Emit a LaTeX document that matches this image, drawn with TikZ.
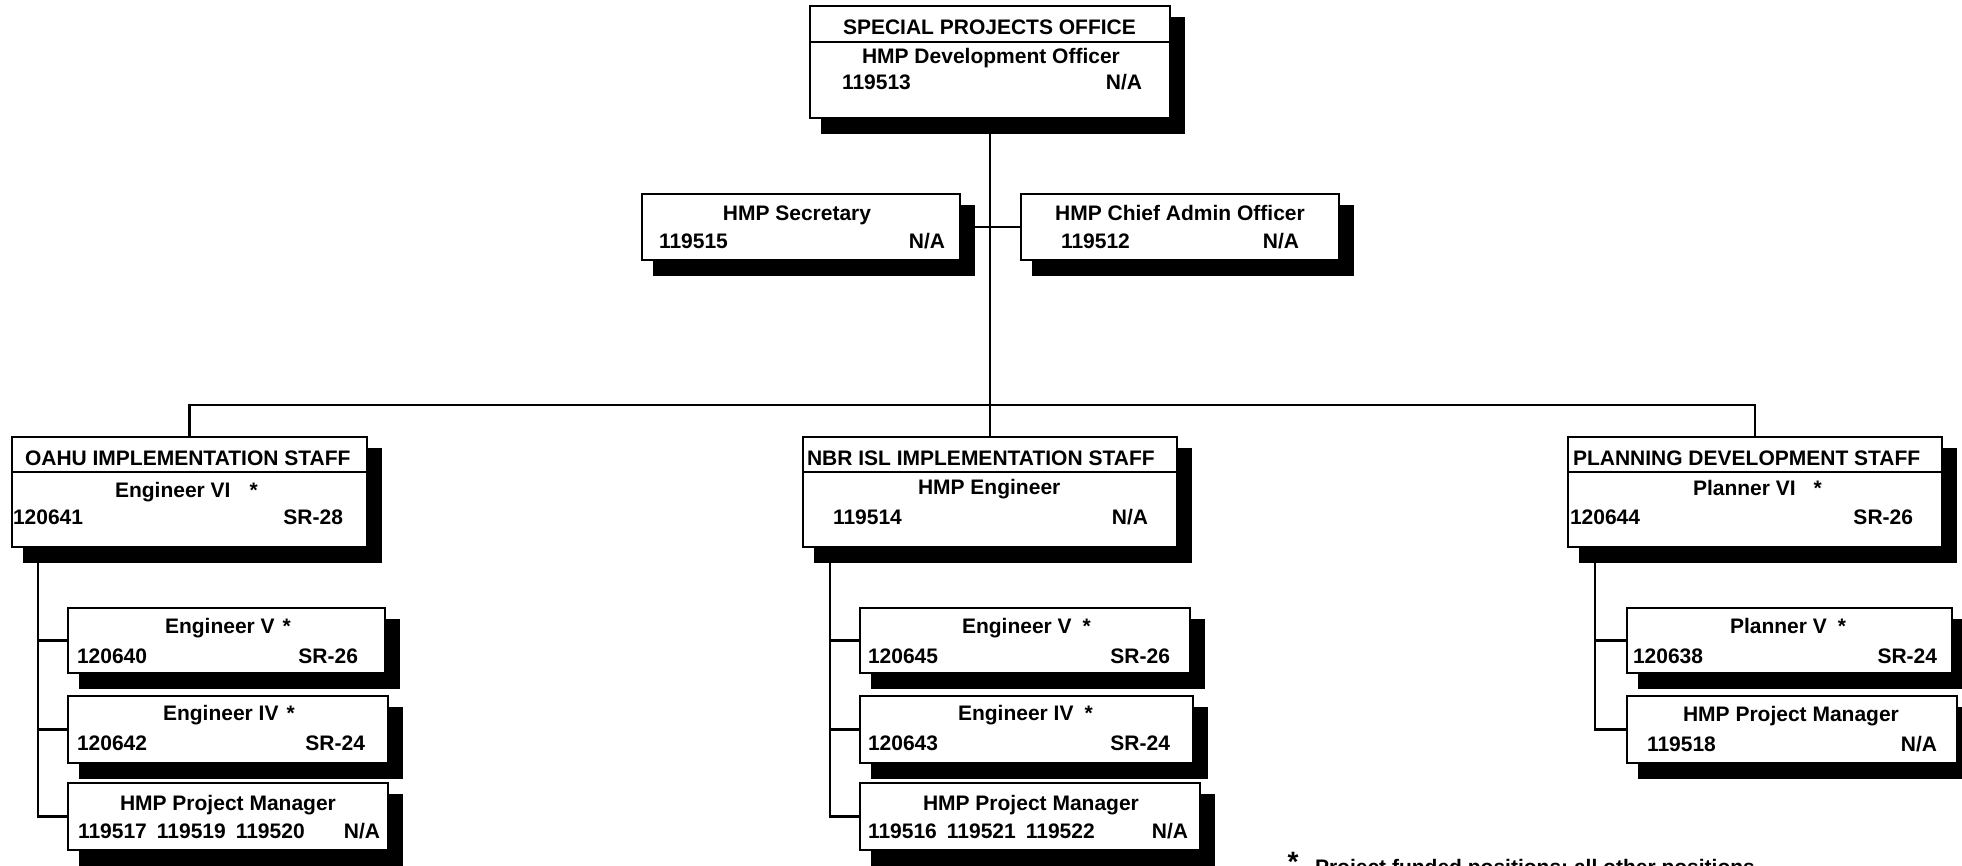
\documentclass[tikz,border=0pt]{standalone}
\usepackage{fontspec}
\setmainfont{Liberation Sans}
\tikzset{
  boxst/.style={draw=black, line width=2.5pt, fill=white, anchor=north west, inner sep=0pt, outer sep=0pt},
  shad/.style={fill=black},
  conn/.style={line width=2.5pt, draw=black},
  lbl/.style={inner sep=0pt, outer sep=0pt, font=\bfseries\fontsize{21}{25}\selectfont},
  lw/.style={lbl, anchor=base west},
  le/.style={lbl, anchor=base east},
  lc/.style={lbl, anchor=base},
}
% name, x1, y1, x2, y2
\newcommand\orgbox[5]{%
  \fill[shad] (#2+11,#3+11) rectangle (#4+15,#5+16);
  \node[boxst, minimum width={#4-#2}, minimum height={#5-#3}] (#1) at (#2,#3) {};
}
\newcommand\titlerule[2]{%
  \draw[conn] ([yshift=-#2pt]#1.north west) -- ([yshift=-#2pt]#1.north east);
}
\begin{document}
\begin{tikzpicture}[x=1pt, y=-1pt]
\fill[white] (0,0) rectangle (1962,866);
\useasboundingbox (0,0) rectangle (1962,866);
\clip (0,0) rectangle (1962,866);

% ---------- boxes ----------
\orgbox{top}{810}{6}{1170}{118}
\titlerule{top}{36}
\orgbox{sec}{642}{194}{960}{260}
\orgbox{chief}{1021}{194}{1339}{260}

\orgbox{oahu}{12}{437}{367}{547}
\titlerule{oahu}{35}
\orgbox{nbr}{803}{437}{1177}{547}
\titlerule{nbr}{35}
\orgbox{plan}{1568}{437}{1942}{547}
\titlerule{plan}{35}

\orgbox{oahuA}{68}{608}{385}{673}
\orgbox{oahuB}{68}{696}{388}{763}
\orgbox{oahuC}{68}{783}{388}{850}

\orgbox{nbrA}{860}{608}{1190}{673}
\orgbox{nbrB}{860}{696}{1193}{763}
\orgbox{nbrC}{860}{783}{1200}{850}

\orgbox{planA}{1627}{608}{1952}{673}
\orgbox{planB}{1627}{696}{1957}{763}

% ---------- connectors ----------
\draw[conn] (top.south) -- (nbr.north);
\draw[conn] (sec.east) -- (chief.west);
\coordinate (bus) at (990,405);
\draw[conn] (oahu.north) |- (bus) -| (plan.north);

\coordinate (oahuv) at ([xshift=26pt]oahu.south west);
\draw[conn] (oahuv) |- (oahuA.west);
\draw[conn] (oahuv) |- (oahuB.west);
\draw[conn] (oahuv) |- (oahuC.west);

\coordinate (nbrv) at ([xshift=27pt]nbr.south west);
\draw[conn] (nbrv) |- (nbrA.west);
\draw[conn] (nbrv) |- (nbrB.west);
\draw[conn] (nbrv) |- (nbrC.west);

\coordinate (planv) at ([xshift=27pt]plan.south west);
\draw[conn] (planv) |- (planA.west);
\draw[conn] (planv) |- (planB.west);

% ---------- texts ----------
\node[lw] (t1) at (843,35) {SPECIAL PROJECTS OFFICE};
\node[lw] (t2) at (862,64) {HMP Development Officer};
\node[lw] (t3) at (842,90) {119513};
\node[le] (t4) at (1142,90) {N/A};

\node[lc] (t5) at (797,221) {HMP Secretary};
\node[lw] (t6) at (659,249) {119515};
\node[le] (t7) at (945,249) {N/A};

\node[lc] (t8) at (1180,221) {HMP Chief Admin Officer};
\node[lw] (t9) at (1061,249) {119512};
\node[le] (t10) at (1299,249) {N/A};

\node[lw] (t11) at (25,465) {OAHU IMPLEMENTATION STAFF};
\node[lw] (t12) at (115,497) {Engineer VI\hspace{19pt}*};
\node[lw] (t13) at (13,524) {120641};
\node[le] (t14) at (343,524) {SR-28};

\node[lw] (t15) at (165,633) {Engineer V\hspace{8pt}*};
\node[lw] (t16) at (77,663) {120640};
\node[le] (t17) at (358,663) {SR-26};

\node[lw] (t18) at (163,720) {Engineer IV\hspace{8pt}*};
\node[lw] (t19) at (77,750) {120642};
\node[le] (t20) at (365,750) {SR-24};

\node[lw] (t21) at (120,810) {HMP Project Manager};
\node[lw] (t22) at (78,838) {119517\hspace{10pt}119519\hspace{10pt}119520};
\node[le] (t23) at (380,838) {N/A};

\node[lw] (t24) at (807,465) {NBR ISL IMPLEMENTATION STAFF};
\node[lw] (t25) at (918,494) {HMP Engineer};
\node[lw] (t26) at (833,524) {119514};
\node[le] (t27) at (1148,524) {N/A};

\node[lw] (t28) at (962,633) {Engineer V\hspace{11pt}*};
\node[lw] (t29) at (868,663) {120645};
\node[le] (t30) at (1170,663) {SR-26};

\node[lw] (t31) at (958,720) {Engineer IV\hspace{11pt}*};
\node[lw] (t32) at (868,750) {120643};
\node[le] (t33) at (1170,750) {SR-24};

\node[lw] (t34) at (923,810) {HMP Project Manager};
\node[lw] (t35) at (868,838) {119516\hspace{10pt}119521\hspace{10pt}119522};
\node[le] (t36) at (1188,838) {N/A};

\node[lw] (t37) at (1573,465) {PLANNING DEVELOPMENT STAFF};
\node[lw] (t38) at (1693,495) {Planner VI\hspace{18pt}*};
\node[lw] (t39) at (1570,524) {120644};
\node[le] (t40) at (1913,524) {SR-26};

\node[lw] (t41) at (1730,633) {Planner V\hspace{11pt}*};
\node[lw] (t42) at (1633,663) {120638};
\node[le] (t43) at (1937,663) {SR-24};

\node[lw] (t44) at (1683,721) {HMP Project Manager};
\node[lw] (t45) at (1647,751) {119518};
\node[le] (t46) at (1937,751) {N/A};

% ---------- footnote ----------
\node[inner sep=0pt, anchor=north, font=\bfseries\fontsize{28}{28}\selectfont] (ast) at (1293,852) {*};
\node[lw] (fn) at (1315,874) {Project funded positions; all other positions};
\end{tikzpicture}
\end{document}
